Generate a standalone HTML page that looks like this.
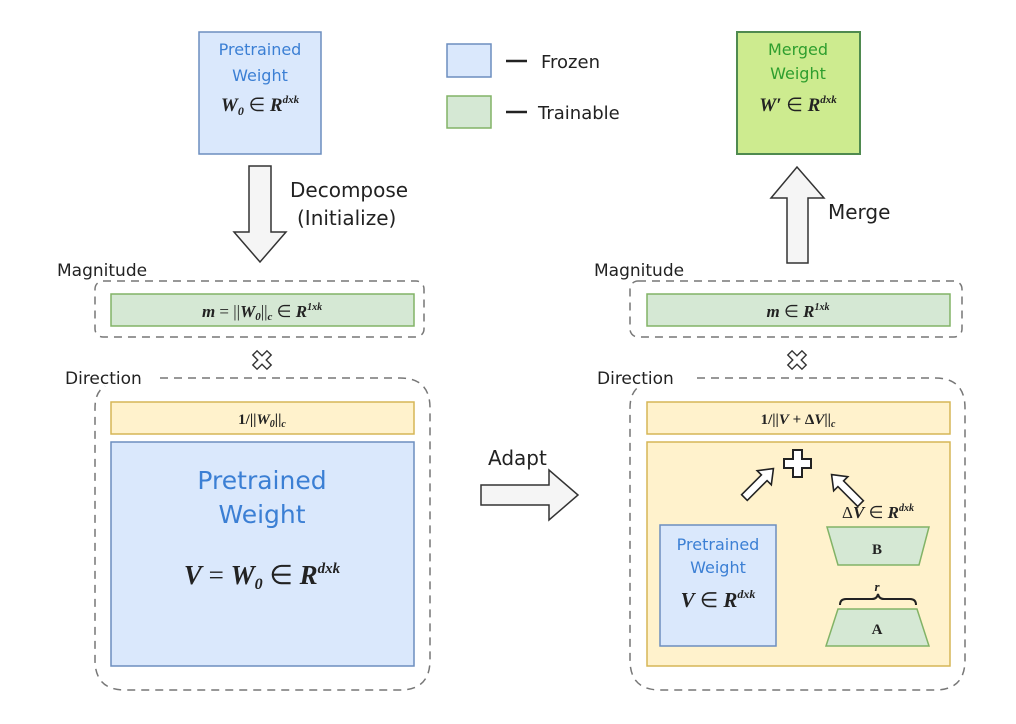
<!DOCTYPE html>
<html><head><meta charset="utf-8"><style>
html,body{margin:0;padding:0;background:#fff;width:1016px;height:724px;overflow:hidden}
svg{display:block}
.s{font-family:"DejaVu Sans","Liberation Sans",sans-serif}
.m{font-family:"Liberation Serif",serif;font-style:italic;font-weight:bold;fill:#222}
.blue{fill:#3b7fd4}
</style></head><body>
<svg width="1016" height="724" viewBox="0 0 1016 724" xmlns="http://www.w3.org/2000/svg">
<rect x="199" y="32" width="122" height="122" fill="#dae8fc" stroke="#6c8ebf" stroke-width="1.5"/>
<text class="s blue" x="260" y="55" font-size="16" text-anchor="middle">Pretrained</text>
<text class="s blue" x="260" y="81" font-size="16" text-anchor="middle">Weight</text>
<text class="m" x="260" y="111" font-size="19" text-anchor="middle">W<tspan font-size="12" dy="4">0</tspan><tspan dy="-4" font-style="normal" font-weight="normal"> ∈ </tspan>R<tspan font-size="11" dy="-8">dxk</tspan></text>

<rect x="447" y="44" width="44" height="33" fill="#dae8fc" stroke="#6c8ebf" stroke-width="1.5"/>
<rect x="447" y="96" width="44" height="32" fill="#d5e8d4" stroke="#82b366" stroke-width="1.5"/>
<line x1="506" y1="61" x2="527" y2="61" stroke="#222" stroke-width="2.5"/>
<line x1="506" y1="112" x2="527" y2="112" stroke="#222" stroke-width="2.5"/>
<text class="s" x="541" y="68" font-size="18" fill="#222">Frozen</text>
<text class="s" x="538" y="119" font-size="18" fill="#222">Trainable</text>

<rect x="737" y="32" width="123" height="122" fill="#cdeb8f" stroke="#4f8a4f" stroke-width="2"/>
<text class="s" x="798" y="55" font-size="16" fill="#2e9e2e" text-anchor="middle">Merged</text>
<text class="s" x="798" y="79" font-size="16" fill="#2e9e2e" text-anchor="middle">Weight</text>
<text class="m" x="798" y="111" font-size="19" text-anchor="middle">W′<tspan font-style="normal" font-weight="normal"> ∈ </tspan>R<tspan font-size="11" dy="-8">dxk</tspan></text>

<polygon points="249,166 271,166 271,232 286,232 260,262 234,232 249,232" fill="#f5f5f5" stroke="#333" stroke-width="1.5"/>
<text class="s" x="290" y="197" font-size="20" fill="#222">Decompose</text>
<text class="s" x="297" y="225" font-size="20" fill="#222">(Initialize)</text>

<polygon points="787,263 808,263 808,198 824,198 797,167 771,198 787,198" fill="#f5f5f5" stroke="#333" stroke-width="1.5"/>
<text class="s" x="828" y="219" font-size="20" fill="#222">Merge</text>

<text class="s" x="57" y="276" font-size="17" fill="#222">Magnitude</text>
<rect x="95" y="281" width="329" height="56" rx="8" fill="none" stroke="#777" stroke-width="1.5" stroke-dasharray="8,6"/>
<rect x="111" y="294" width="303" height="32" fill="#d5e8d4" stroke="#82b366" stroke-width="1.5"/>
<text class="m" x="262" y="317" font-size="17" text-anchor="middle">m<tspan font-style="normal" font-weight="normal"> = ||</tspan>W<tspan font-size="11" dy="3">0</tspan><tspan dy="-3" font-style="normal" font-weight="normal">||</tspan><tspan font-size="11" dy="3">c</tspan><tspan dy="-3" font-style="normal" font-weight="normal"> ∈ </tspan>R<tspan font-size="10" dy="-7">1xk</tspan></text>
<g transform="translate(262,360) rotate(45)" fill="#fff" stroke="#333" stroke-width="1.4"><path d="M-3,-10 h6 v7 h7 v6 h-7 v7 h-6 v-7 h-7 v-6 h7 z"/></g>

<text class="s" x="65" y="384" font-size="17" fill="#222">Direction</text>
<path d="M160,378 H400 Q430,378 430,408 V660 Q430,690 400,690 H125 Q95,690 95,660 V408 Q95,392 105,386" fill="none" stroke="#777" stroke-width="1.5" stroke-dasharray="8,6"/>
<rect x="111" y="402" width="303" height="32" fill="#fff2cc" stroke="#d6b656" stroke-width="1.5"/>
<text class="m" x="262" y="424" font-size="15" text-anchor="middle"><tspan font-style="normal">1/||</tspan>W<tspan font-size="10" dy="3">0</tspan><tspan dy="-3" font-style="normal">||</tspan><tspan font-size="10" dy="3">c</tspan></text>
<rect x="111" y="442" width="303" height="224" fill="#dae8fc" stroke="#6c8ebf" stroke-width="1.5"/>
<text class="s blue" x="262" y="489" font-size="25" text-anchor="middle">Pretrained</text>
<text class="s blue" x="262" y="523" font-size="25" text-anchor="middle">Weight</text>
<text class="m" x="262" y="584" font-size="27" text-anchor="middle">V<tspan font-style="normal" font-weight="normal"> = </tspan>W<tspan font-size="16" dy="5">0</tspan><tspan dy="-5" font-style="normal" font-weight="normal"> ∈ </tspan>R<tspan font-size="15" dy="-11">dxk</tspan></text>

<text class="s" x="488" y="465" font-size="20" fill="#222">Adapt</text>
<polygon points="481,485 549,485 549,470 578,495 549,520 549,505 481,505" fill="#f5f5f5" stroke="#333" stroke-width="1.5"/>

<text class="s" x="594" y="276" font-size="17" fill="#222">Magnitude</text>
<rect x="630" y="281" width="332" height="56" rx="8" fill="none" stroke="#777" stroke-width="1.5" stroke-dasharray="8,6"/>
<rect x="647" y="294" width="303" height="32" fill="#d5e8d4" stroke="#82b366" stroke-width="1.5"/>
<text class="m" x="798" y="317" font-size="17" text-anchor="middle">m<tspan font-style="normal" font-weight="normal"> ∈ </tspan>R<tspan font-size="10" dy="-7">1xk</tspan></text>
<g transform="translate(797,360) rotate(45)" fill="#fff" stroke="#333" stroke-width="1.4"><path d="M-3,-10 h6 v7 h7 v6 h-7 v7 h-6 v-7 h-7 v-6 h7 z"/></g>

<text class="s" x="597" y="384" font-size="17" fill="#222">Direction</text>
<path d="M697,378 H935 Q965,378 965,408 V660 Q965,690 935,690 H660 Q630,690 630,660 V408 Q630,392 640,386" fill="none" stroke="#777" stroke-width="1.5" stroke-dasharray="8,6"/>
<rect x="647" y="402" width="303" height="32" fill="#fff2cc" stroke="#d6b656" stroke-width="1.5"/>
<text class="m" x="798" y="424" font-size="15" text-anchor="middle"><tspan font-style="normal">1/||</tspan>V<tspan font-style="normal"> + Δ</tspan>V<tspan font-style="normal">||</tspan><tspan font-size="10" dy="3">c</tspan></text>
<rect x="647" y="442" width="303" height="224" fill="#fff2cc" stroke="#d6b656" stroke-width="1.5"/>
<path d="M793,450 h9 v9 h9 v9 h-9 v9 h-9 v-9 h-9 v-9 h9 z" fill="#fff" stroke="#222" stroke-width="2"/>
<g transform="translate(760,482) rotate(-45)">
<polygon points="-22,-4 6,-4 6,-10 19,0 6,10 6,4 -22,4" fill="#fff" stroke="#222" stroke-width="1.6"/>
</g>
<g transform="translate(845,488) rotate(-135)">
<polygon points="-22,-4 6,-4 6,-10 19,0 6,10 6,4 -22,4" fill="#fff" stroke="#222" stroke-width="1.6"/>
</g>
<text class="m" x="878" y="518" font-size="17" text-anchor="middle"><tspan font-style="normal" font-weight="normal">Δ</tspan>V<tspan font-style="normal" font-weight="normal"> ∈ </tspan>R<tspan font-size="10" dy="-7">dxk</tspan></text>
<rect x="660" y="525" width="116" height="121" fill="#dae8fc" stroke="#6c8ebf" stroke-width="1.5"/>
<text class="s blue" x="718" y="550" font-size="16" text-anchor="middle">Pretrained</text>
<text class="s blue" x="718" y="573" font-size="16" text-anchor="middle">Weight</text>
<text class="m" x="718" y="607" font-size="21" text-anchor="middle">V<tspan font-style="normal" font-weight="normal"> ∈ </tspan>R<tspan font-size="12" dy="-9">dxk</tspan></text>
<polygon points="827,527 929,527 919,565 838,565" fill="#d5e8d4" stroke="#82b366" stroke-width="1.5"/>
<text x="877" y="554" font-size="15" font-weight="bold" text-anchor="middle" font-family="Liberation Serif,serif" fill="#222">B</text>
<path d="M840,605 Q840,599 846,599 H872 Q877,599 878,594 Q879,599 884,599 H910 Q916,599 916,605" fill="none" stroke="#222" stroke-width="2"/>
<text class="m" x="877" y="591" font-size="13" text-anchor="middle">r</text>
<polygon points="838,609 917,609 929,646 826,646" fill="#d5e8d4" stroke="#82b366" stroke-width="1.5"/>
<text x="877" y="634" font-size="15" font-weight="bold" text-anchor="middle" font-family="Liberation Serif,serif" fill="#222">A</text>
</svg>
</body></html>
